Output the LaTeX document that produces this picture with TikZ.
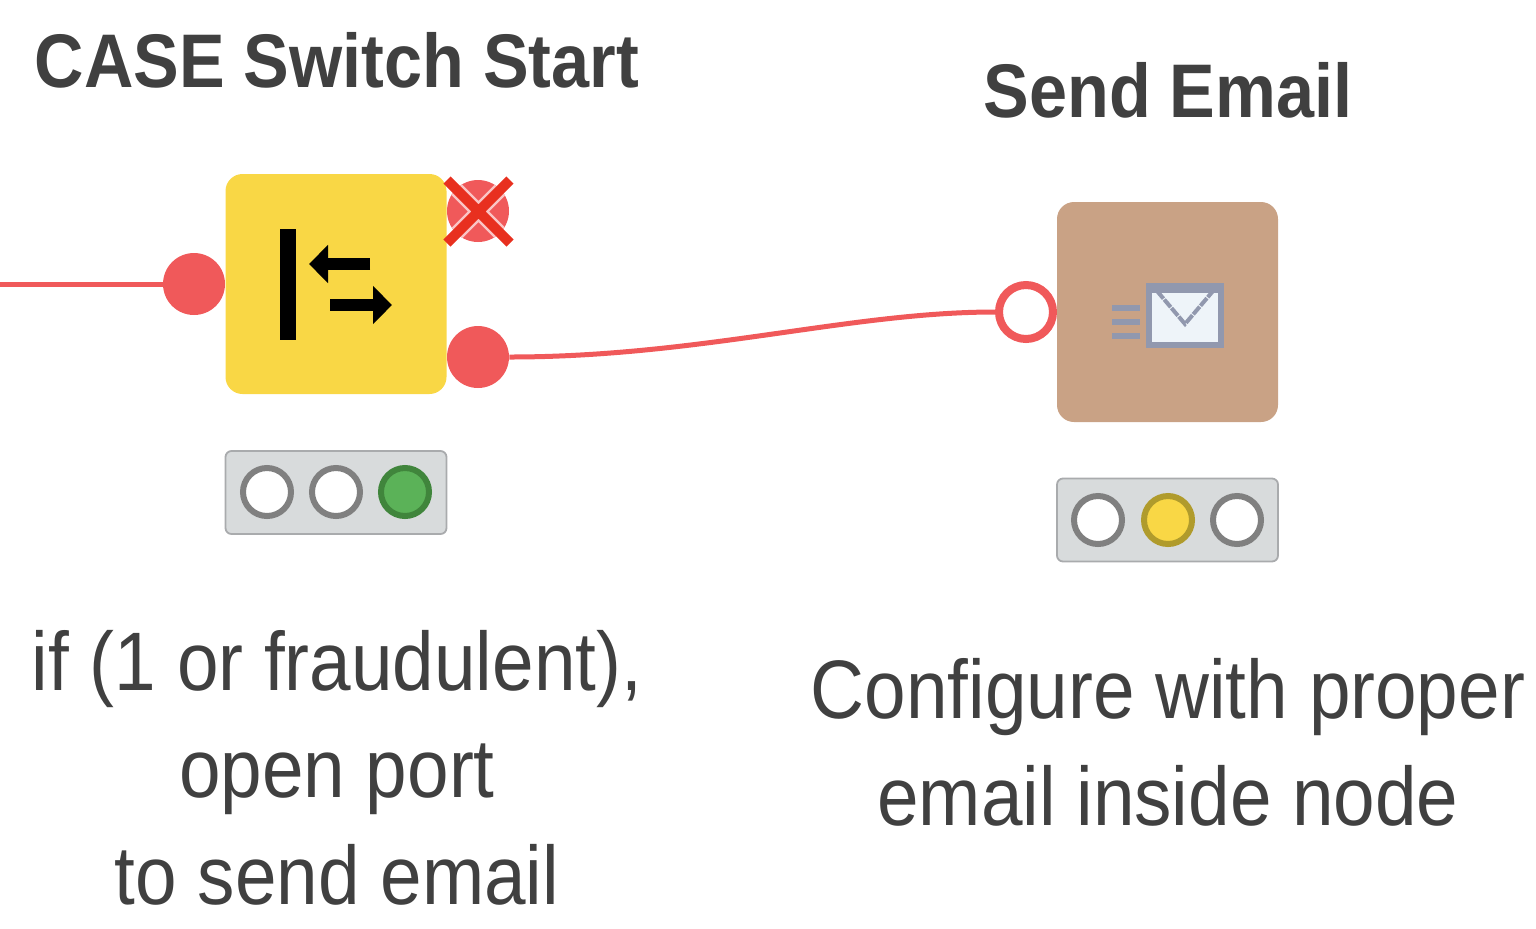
\documentclass[tikz,border=0pt]{standalone}
\usepackage{fontspec}
\setmainfont[FakeStretch=0.9]{Liberation Sans}
\usetikzlibrary{arrows.meta}
\definecolor{portred}{HTML}{F0595A}
\definecolor{boxyellow}{HTML}{F9D745}
\definecolor{boxbrown}{HTML}{C9A285}
\definecolor{ink}{HTML}{404040}
\definecolor{tlbg}{HTML}{D8DBDC}
\definecolor{tlline}{HTML}{A9ABAD}
\definecolor{lampgrey}{HTML}{808080}
\definecolor{lampgreen}{HTML}{5BB258}
\definecolor{lampgreenline}{HTML}{40853C}
\definecolor{lampyellowline}{HTML}{B09B2C}
\definecolor{envline}{HTML}{9198AE}
\definecolor{envfill}{HTML}{EEF4F9}
\definecolor{crossred}{HTML}{E8301F}
\tikzset{
 x=0.5pt,y=-0.5pt,
 nodebox/.style={rounded corners=8.5pt,minimum width=110.5pt,minimum height=110pt,inner sep=0pt},
 lightbar/.style={draw=tlline,line width=0.9pt,fill=tlbg,rounded corners=3pt,minimum width=110.5pt,minimum height=41.5pt,inner sep=0pt},
 lamp/.style={circle,draw=lampgrey,fill=white,line width=3pt,minimum size=24pt,inner sep=0pt},
 port/.style={circle,fill=portred,minimum size=31pt,inner sep=0pt},
 openport/.style={circle,draw=portred,fill=white,line width=4pt,minimum size=27pt,inner sep=0pt},
 wire/.style={draw=portred,line width=2.5pt},
 iconarrow/.style={black,line width=6pt,-{Triangle[length=9.5pt,width=18.5pt]}},
 title/.style={font=\fontsize{38}{44}\selectfont\bfseries,text=ink,inner sep=0pt},
 note/.style={font=\fontsize{41.5}{53.5}\selectfont,text=ink,align=center,inner sep=0pt},
}
\begin{document}
\begin{tikzpicture}
\useasboundingbox (0,0) rectangle (1536,928);
% ports and connectors
\coordinate (in) at (0,284);
\node[port] (p1) at (194,284) {};
\node[port] (p2) at (478,357) {};
\node[openport] (p3) at (1026,312) {};
\draw[wire] (in) -- (p1);
\draw[wire] (p2.east) .. controls (700,357) and (850,312) .. (p3.west);
% case node
\node[nodebox,fill=boxyellow] (caseN) at (336,284) {};
\node[port] (p4) at (478,211) {};
\begin{scope}
\clip (478,211) circle (31);
\draw[white!65!portred,line width=7.5pt] (447,180)--(510,243) (510,180)--(447,243);
\end{scope}
\draw[crossred,line width=5pt] (447,180)--(510,243) (510,180)--(447,243);
\fill[black] (280,229) rectangle (296,340);
\draw[iconarrow] (370,264) -- (309,264);
\draw[iconarrow] (330,305) -- (392,305);
% send node
\node[nodebox,fill=boxbrown] (sendN) at (1167.5,312) {};
\draw[envline,line width=3pt] (1112,308)--(1140,308) (1112,322)--(1140,322) (1112,336)--(1140,336);
\draw[envline,fill=envfill,line width=2.6pt] (1149,286) rectangle (1221,345);
\fill[envline] (1149,286) rectangle (1221,293);
\draw[envline,line width=2pt,dash pattern=on 5pt off 0.6pt] (1157,291)--(1185,324)--(1213,291);
% light bars
\node[lightbar] (tl1) at (336,492.5) {};
\node[lamp] (a1) at (267,492) {};
\node[lamp] (a2) at (336,492) {};
\node[lamp,draw=lampgreenline,fill=lampgreen] (a3) at (405,492) {};
\node[lightbar] (tl2) at (1167.5,520) {};
\node[lamp] (b1) at (1098,520) {};
\node[lamp,draw=lampyellowline,fill=boxyellow] (b2) at (1168,520) {};
\node[lamp] (b3) at (1237,520) {};
% texts
\node[title] (t1) at (337,60) {CASE Switch Start};
\node[title] (t2) at (1168,90) {Send Email};
\node[note] (n1) at (337,768) {if (1 or fraudulent),\\open port\\to send email};
\node[note] (n2) at (1168,742) {Configure with proper\\email inside node};
\end{tikzpicture}
\end{document}
